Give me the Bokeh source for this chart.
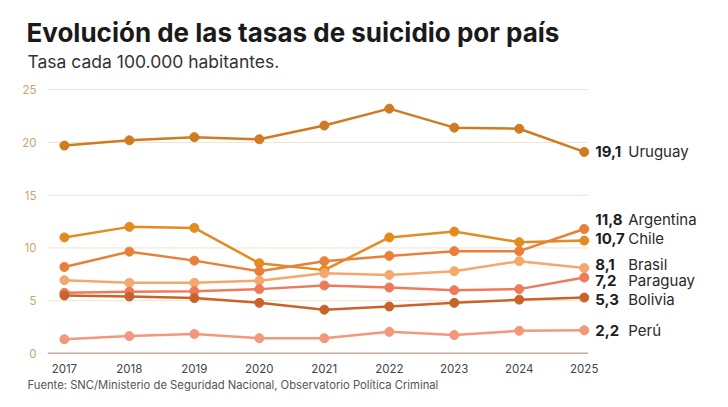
from bokeh.plotting import figure
from bokeh.models import ColumnDataSource, Range1d, FixedTicker, Title
from bokeh.core.properties import value
from bokeh.embed import file_html
from bokeh.resources import INLINE

# Datos (tasa cada 100.000 habitantes)
years = [2017, 2018, 2019, 2020, 2021, 2022, 2023, 2024, 2025]
uruguay = [19.7, 20.2, 20.5, 20.3, 21.6, 23.2, 21.4, 21.3, 19.1]
chile = [11.0, 12.0, 11.9, 8.55, 7.9, 11.0, 11.55, 10.55, 10.7]
argentina = [8.2, 9.65, 8.8, 7.8, 8.75, 9.25, 9.7, 9.7, 11.8]
brasil = [6.95, 6.7, 6.7, 6.9, 7.6, 7.45, 7.8, 8.75, 8.1]
paraguay = [5.75, 5.85, 5.9, 6.1, 6.45, 6.25, 6.0, 6.1, 7.2]
bolivia = [5.5, 5.4, 5.25, 4.8, 4.15, 4.45, 4.8, 5.1, 5.3]
peru = [1.35, 1.65, 1.85, 1.45, 1.45, 2.05, 1.75, 2.15, 2.2]

countries = ["Uruguay", "Chile", "Argentina", "Brasil", "Paraguay", "Bolivia", "Perú"]
series = [uruguay, chile, argentina, brasil, paraguay, bolivia, peru]
value_labels = ["19,1", "10,7", "11,8", "8,1", "7,2", "5,3", "2,2"]
y_ticks = [0, 5, 10, 15, 20, 25]
colors = ["#cf7b22", "#e38b1e", "#ea7f3a", "#f4a86c", "#ee7a5c", "#c8642a", "#f4977a"]
# ajuste vertical (px, hacia abajo) de las etiquetas para que no se solapen
nudge = [0, -2, -9, -4, 3, 2, 0]

FONT = "Inter"
X0, X1 = 2016.74, 2025.06   # extremo de la rejilla

p = figure(width=712, height=391, output_backend="svg", toolbar_location=None,
           x_range=Range1d(X0, 2026.82), y_range=Range1d(0, 25.3),
           min_border_left=47, min_border_right=10, min_border_top=86,
           min_border_bottom=36)
p.outline_line_color = None
p.background_fill_color = "white"
p.border_fill_color = "white"
p.xgrid.grid_line_color = None
p.ygrid.grid_line_color = None

p.yaxis.ticker = FixedTicker(ticks=y_ticks)
p.xaxis.ticker = FixedTicker(ticks=years)
for ax in (p.xaxis, p.yaxis):
    ax.axis_line_color = None
    ax.major_tick_line_color = None
    ax.minor_tick_line_color = None
    ax.major_label_text_font = FONT
    ax.major_label_text_font_size = "11.5px"
p.yaxis.major_label_text_color = "#c9a46c"
p.yaxis.major_label_standoff = 5
p.xaxis.major_label_text_color = "#444444"
p.xaxis.major_label_standoff = 4

# rejilla horizontal solo hasta 2025 (deja sitio a las etiquetas)
grid = ColumnDataSource(dict(y=y_ticks[1:], x0=[X0] * 5, x1=[X1] * 5))
p.segment("x0", "y", "x1", "y", source=grid, line_color="#efe3cc", line_width=1)
p.segment(x0=[X0], y0=[0], x1=[X1], y1=[0], line_color="#8a5a3a", line_width=1.5)

for name, vals, col in zip(countries, series, colors):
    src = ColumnDataSource(dict(x=years, y=vals))
    p.line("x", "y", source=src, line_color=col, line_width=2.5)
    p.scatter("x", "y", source=src, size=9, fill_color=col, line_color=col)

last = [s[-1] for s in series]
lab = ColumnDataSource(dict(x=[years[-1]] * len(countries), y=last,
                            v=value_labels, n=countries, dy=nudge))
p.text("x", "y", text="v", source=lab, x_offset=11, y_offset="dy",
       text_font=value(FONT), text_font_size="15px", text_font_style="bold",
       text_color="#1e1e1e", text_baseline="middle")
p.text("x", "y", text="n", source=lab, x_offset=44, y_offset="dy",
       text_font=value(FONT), text_font_size="15px",
       text_color="#2a2a2a", text_baseline="middle")

# títulos y fuente
p.title.text = "Evolución de las tasas de suicidio por país"
p.title.text_font = FONT
p.title.text_font_size = "26px"
p.title.text_font_style = "bold"
p.title.text_color = "#1a1a1a"
p.title.offset = -21
p.title.standoff = -29
p.add_layout(Title(text="Tasa cada 100.000 habitantes.",
                   text_font=FONT, text_font_size="17.5px", text_font_style="normal",
                   text_color="#333333", offset=-20, standoff=30), "above")
p.add_layout(Title(text="Fuente: SNC/Ministerio de Seguridad Nacional, Observatorio Política Criminal",
                   text_font=FONT, text_font_size="11.25px", text_font_style="normal",
                   text_color="#555555", offset=-20, standoff=0), "below")

open("out.html", "w").write(file_html(p, INLINE))
